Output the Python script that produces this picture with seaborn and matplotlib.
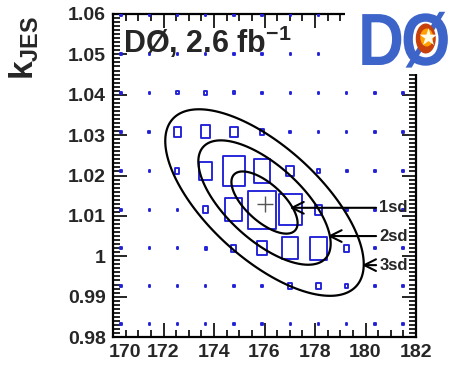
import numpy as np
import pandas as pd
import matplotlib
matplotlib.use("Agg")
import matplotlib.pyplot as plt
import seaborn as sns
from matplotlib.path import Path
from matplotlib.markers import MarkerStyle
from matplotlib.ticker import MultipleLocator, FuncFormatter
from matplotlib.textpath import TextPath
from matplotlib.patches import PathPatch, Ellipse
from matplotlib.font_manager import FontProperties
from matplotlib.transforms import Affine2D, ScaledTranslation

# ---------------- data ----------------
mtop_grid = [170.32, 171.44, 172.55, 173.67, 174.79, 175.90, 177.02, 178.14, 179.25, 180.37, 181.49]
kjes_grid = [0.9832, 0.9926, 1.0020, 1.0115, 1.0211, 1.0308, 1.0405, 1.0501, 1.0597]
# relative box size (fraction of the cell), one row per kjes_grid value
box_rows = [
    [0.05, 0.05, 0.05, 0.05, 0.05, 0.05, 0.05, 0.05, 0.05, 0.05, 0.05],
    [0.05, 0.05, 0.05, 0.05, 0.05, 0.05, 0.15, 0.17, 0.10, 0.05, 0.05],
    [0.05, 0.05, 0.05, 0.07, 0.18, 0.36, 0.57, 0.60, 0.19, 0.05, 0.05],
    [0.05, 0.05, 0.05, 0.18, 0.60, 1.00, 0.80, 0.25, 0.07, 0.05, 0.05],
    [0.05, 0.05, 0.14, 0.45, 0.77, 0.60, 0.28, 0.10, 0.07, 0.05, 0.05],
    [0.05, 0.07, 0.24, 0.34, 0.27, 0.14, 0.07, 0.05, 0.05, 0.05, 0.05],
    [0.05, 0.05, 0.08, 0.10, 0.07, 0.05, 0.05, 0.05, 0.05, 0.05, 0.05],
    [0.05, 0.05, 0.05, 0.05, 0.05, 0.05, 0.05, 0.05, 0.05, 0.05, 0.05],
    [0.05, 0.05, 0.05, 0.05, 0.05, 0.05, 0.05, 0.05, 0.05, 0.05, 0.05],
]
fit_mtop, fit_kjes = 176.0, 1.0129
ell_center = (176.0, 1.0133)
sigma_mtop, sigma_kjes, rho = 1.31, 0.0077, -0.66
contour_levels = [1, 4, 9]
contour_labels = ["1sd", "2sd", "3sd"]
label_kjes = [1.0120, 1.0050, 0.9978]
arrow_head_mtop = [177.0, 178.5, 179.86]
label_mtop = 180.55
x_ticks = [170, 172, 174, 176, 178, 180, 182]
y_ticks = [0.98, 0.99, 1.00, 1.01, 1.02, 1.03, 1.04, 1.05, 1.06]

# ---------------- style ----------------
sns.set_style("ticks")
plt.rcParams["font.family"] = ["Liberation Sans", "DejaVu Sans"]
plt.rcParams["font.weight"] = "bold"
plt.rcParams["mathtext.fontset"] = "custom"
plt.rcParams["mathtext.bf"] = "Liberation Sans:bold"
plt.rcParams["mathtext.rm"] = "Liberation Sans:bold"
plt.rcParams["mathtext.it"] = "Liberation Sans:bold"

W, H, DPI = 459, 366, 100
fig = plt.figure(figsize=(W / DPI, H / DPI), dpi=DPI)
fig.patch.set_facecolor("white")
L, R, T, B = 113, 416, 14, 337
ax = fig.add_axes([L / W, 1 - B / H, (R - L) / W, (B - T) / H])
ax.set_xlim(170, 182)
ax.set_ylim(0.98, 1.06)

# ---------------- boxes ----------------
rows = []
for k, row in zip(kjes_grid, box_rows):
    for m, f in zip(mtop_grid, row):
        rows.append({"mtop": m, "kjes": k, "area": f * f})
df = pd.DataFrame(rows)

ax_w_px, ax_h_px = R - L, B - T
cell_w_px = np.mean(np.diff(mtop_grid)) / 12 * ax_w_px
cell_h_px = np.mean(np.diff(kjes_grid)) / 0.08 * ax_h_px
ratio = cell_w_px / cell_h_px
box_path = Path([(-ratio / 2, -0.5), (ratio / 2, -0.5), (ratio / 2, 0.5), (-ratio / 2, 0.5), (-ratio / 2, -0.5)],
                [Path.MOVETO, Path.LINETO, Path.LINETO, Path.LINETO, Path.CLOSEPOLY])
box_marker = MarkerStyle(box_path)
h_pt = cell_h_px * 72 / DPI
blue = "#2020d8"
sns.scatterplot(data=df, x="mtop", y="kjes", size="area", sizes=(0, h_pt ** 2), size_norm=(0, 1),
                marker=box_marker, legend=False, ax=ax, linewidth=1.35, zorder=3)
coll = ax.collections[-1]
coll.set_facecolor("none")
coll.set_edgecolor(blue)

# ---------------- contours ----------------
mm = np.linspace(168, 184, 600)
kk = np.linspace(0.97, 1.07, 600)
M, K = np.meshgrid(mm, kk)
dm = (M - ell_center[0]) / sigma_mtop
dk = (K - ell_center[1]) / sigma_kjes
chi2 = (dm ** 2 - 2 * rho * dm * dk + dk ** 2) / (1 - rho ** 2)
ax.contour(M, K, chi2, levels=contour_levels, colors="black", linewidths=1.6, zorder=4)

ax.plot([fit_mtop], [fit_kjes], marker="+", color="#555555", markersize=11, mew=1.0, zorder=5)

for lab, ky, hx in zip(contour_labels, label_kjes, arrow_head_mtop):
    ax.annotate(lab, xy=(hx, ky), xytext=(label_mtop, ky), fontsize=12, fontweight="bold",
                ha="left", va="center", zorder=6,
                arrowprops=dict(arrowstyle="->,head_length=0.7,head_width=0.35", lw=1.5,
                                color="black", shrinkA=0, shrinkB=0))

# ---------------- axes ----------------
ax.set_xticks(x_ticks)
ax.set_yticks(y_ticks)
ax.xaxis.set_minor_locator(MultipleLocator(0.5))
ax.yaxis.set_minor_locator(MultipleLocator(0.001))
ax.yaxis.set_major_formatter(FuncFormatter(lambda v, p: "%g" % round(v, 3)))
ax.xaxis.set_major_formatter(FuncFormatter(lambda v, p: "%g" % round(v, 3)))
ax.tick_params(which="both", direction="in", top=True, right=True, width=1.2, color="black",
               labelsize=14, pad=5)
ax.tick_params(which="major", length=10)
ax.tick_params(which="minor", length=5)
for lab in ax.get_xticklabels() + ax.get_yticklabels():
    lab.set_fontweight("bold")
# first x label sits a little to the right of the axis corner, as in the reference
first = ax.get_xticklabels()[0]
first.set_transform(first.get_transform() + ScaledTranslation(12 / DPI, 0, fig.dpi_scale_trans))
for s in ax.spines.values():
    s.set_linewidth(1.6)
    s.set_color("black")
ax.set_xlabel("")
ax.set_ylabel("")

fig.text(123 / W, 1 - 53 / H, r"DØ, 2.6 fb$^{\mathbf{-1}}$", fontsize=22, fontweight="bold",
         ha="left", va="baseline", zorder=7)
fig.text(24 / W, 1 - 16 / H, r"$\mathbf{k}_{\mathbf{JES}}$", fontsize=24, rotation=90,
         ha="center", va="top")

# ---------------- logo ----------------
lax = fig.add_axes([345 / W, 1 - 74 / H, 114 / W, 74 / H], zorder=10)
lax.set_xlim(0, 114)
lax.set_ylim(0, 74)
lax.axis("off")
lax.add_patch(plt.Rectangle((0, 0), 114, 74, color="white", zorder=0))
logo_blue = "#3d64c8"
fp = FontProperties(family="Liberation Sans", weight="bold")
em = 74
sx = 0.86
base_y = 74 - 65
for ch, x0 in (("D", 13), ("Ø", 56)):
    tp = TextPath((0, 0), ch, size=em, prop=fp)
    tr = Affine2D().scale(sx, 1.0).translate(x0, base_y)
    lax.add_patch(PathPatch(tr.transform_path(tp), facecolor=logo_blue, edgecolor="none", zorder=2))
cx, cy = 56 + 0.389 * em * sx, base_y + 0.358 * em
lax.add_patch(Ellipse((cx, cy), 20, 30, facecolor="#c8400c", edgecolor="none", zorder=3))
lax.add_patch(Ellipse((cx + 1, cy + 1), 13, 18, facecolor="#ffa000", edgecolor="none", zorder=4))
lax.scatter([cx + 2], [cy + 2], s=180, marker="*", color="#fffbe8", zorder=5, linewidths=0)

fig.savefig("out.png", dpi=DPI, facecolor="white")
